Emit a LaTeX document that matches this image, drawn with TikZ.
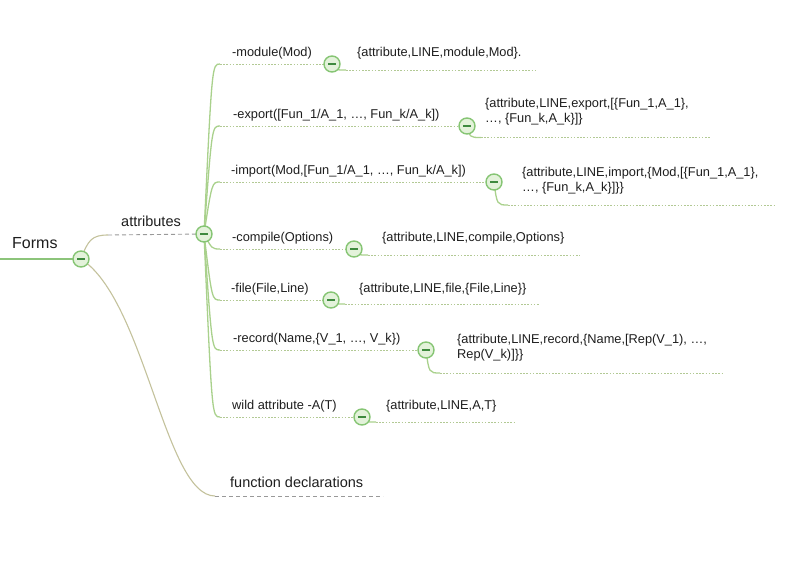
\documentclass[tikz,border=0pt]{standalone}
\usepackage{fontspec}
\setmainfont{Liberation Sans}
\usetikzlibrary{calc}
\pgfdeclarelayer{paper}
\pgfdeclarelayer{bg}
\pgfsetlayers{paper,bg,main}
\definecolor{rootgreen}{HTML}{8CC47A}
\definecolor{olivec}{HTML}{C4C29C}
\definecolor{lgreen}{HTML}{A9D18C}
\definecolor{dotc}{HTML}{B2C994}
\definecolor{dashc}{HTML}{999999}
\definecolor{circd}{HTML}{86C574}
\definecolor{circf}{HTML}{E3F2DA}
\definecolor{bard}{HTML}{3E8A3E}
\definecolor{txt}{HTML}{1E1E1E}
\newcommand\twolines[2]{\begin{tabular}[t]{@{}l@{}}#1\\#2\end{tabular}}
\tikzset{
  circ/.style={circle, draw=circd, line width=1.4pt, fill=circf, minimum size=16pt, inner sep=0pt,
    path picture={\draw[bard, line width=2pt]
      ($(path picture bounding box.center)+(-3.8pt,0pt)$) -- ($(path picture bounding box.center)+(3.8pt,0pt)$);}},
  lbl/.style={anchor=base west, inner sep=0pt, text=txt, font=\fontsize{12.8}{15}\selectfont},
  biglbl/.style={lbl, font=\fontsize{14.5}{17}\selectfont},
  rootlbl/.style={lbl, font=\fontsize{16}{19}\selectfont},
  rootline/.style={draw=rootgreen, line width=1.2pt},
  lvlone/.style={draw=olivec, line width=1.1pt},
  dashul/.style={draw=dashc, line width=0.9pt, dash pattern=on 4pt off 3pt},
  branch/.style={draw=lgreen, line width=1.3pt},
  dotul/.style={draw=dotc, line width=0.9pt, dash pattern=on 1.6pt off 1.6pt},
}
\begin{document}
\begin{tikzpicture}[x=1pt,y=-1pt]
\begin{pgfonlayer}{paper}
\fill[white] (0,0) rectangle (789,576);
\end{pgfonlayer}
\useasboundingbox (0,0) rectangle (789,576);

% ---- circles
\node[circ] (cF) at (81,259) {};
\node[circ] (cA) at (204,234) {};
\node[circ] (cMod) at (332,64) {};
\node[circ] (cExp) at (467,126) {};
\node[circ] (cImp) at (494,182) {};
\node[circ] (cCmp) at (354,249) {};
\node[circ] (cFil) at (331,300) {};
\node[circ] (cRec) at (426,350) {};
\node[circ] (cWld) at (362,417) {};

% ---- texts
\node[rootlbl] (tForms) at (12,248) {Forms};
\node[biglbl] (tAttr) at (121,226) {attributes};
\node[biglbl] (tFun) at (230,487) {function declarations};

\node[lbl] (tMod) at (232,56) {-module(Mod)};
\node[lbl] (tExp) at (233,118) {-export([Fun\_1/A\_1, …, Fun\_k/A\_k])};
\node[lbl] (tImp) at (231,174) {-import(Mod,[Fun\_1/A\_1, …, Fun\_k/A\_k])};
\node[lbl] (tCmp) at (232,241) {-compile(Options)};
\node[lbl] (tFil) at (231,292) {-file(File,Line)};
\node[lbl] (tRec) at (233,342) {-record(Name,\{V\_1, …, V\_k\})};
\node[lbl] (tWld) at (232,409) {wild attribute -A(T)};

\node[lbl] (vMod) at (357,56) {\{attribute,LINE,module,Mod\}.};
\node[lbl] (vExp) at (485,107) {\twolines{\{attribute,LINE,export,[\{Fun\_1,A\_1\},}{…, \{Fun\_k,A\_k\}]\}}};
\node[lbl] (vImp) at (522,176) {\twolines{\{attribute,LINE,import,\{Mod,[\{Fun\_1,A\_1\},}{…, \{Fun\_k,A\_k\}]\}\}}};
\node[lbl] (vCmp) at (382,241) {\{attribute,LINE,compile,Options\}};
\node[lbl] (vFil) at (359,292) {\{attribute,LINE,file,\{File,Line\}\}};
\node[lbl] (vRec) at (457,343) {\twolines{\{attribute,LINE,record,\{Name,[Rep(V\_1), …,}{Rep(V\_k)]\}\}}};
\node[lbl] (vWld) at (386,409) {\{attribute,LINE,A,T\}};

% ---- coordinates for free ends
\coordinate (r0) at (0,259);
\coordinate (uA) at (108,235);
\coordinate (uF0) at (215,496);
\coordinate (uF1) at (383,496);
\foreach \n/\y in {Mod/64,Exp/126,Imp/182,Cmp/249,Fil/300,Rec/350,Wld/417}{
  \coordinate (s\n) at (220,\y);
}
\coordinate (aMod) at (346,70);   \coordinate (eMod) at (536,70);
\coordinate (aExp) at (481,137.5);\coordinate (eExp) at (710,137.5);
\coordinate (aImp) at (508,205);  \coordinate (eImp) at (775,205);
\coordinate (aCmp) at (368,255);  \coordinate (eCmp) at (580,255);
\coordinate (aFil) at (345,304);  \coordinate (eFil) at (540,304);
\coordinate (aRec) at (440,373);  \coordinate (eRec) at (724,373);
\coordinate (aWld) at (376,422);  \coordinate (eWld) at (515,422);

\begin{pgfonlayer}{bg}
  \draw[rootline] (r0) -- (cF.center);
  \draw[lvlone] (cF.center) .. controls (88,240) and (92,235) .. (uA);
  \draw[dashul] (uA) -- (cA.center);
  \draw[lvlone] (cF.center) .. controls (145,300) and (165,496) .. (uF0);
  \draw[dashul] (uF0) -- (uF1);
  \foreach \n in {Mod,Exp,Imp,Cmp,Fil,Rec,Wld}{
    \draw[branch] (cA.center) .. controls ($(s\n)+(-8,0)$) and ($(s\n)+(-8,0)$) .. (s\n);
    \draw[dotul] (s\n) -- (c\n.center);
    \draw[branch] (c\n.center) .. controls ($(a\n)+(-11,0)$) and ($(a\n)+(-11,0)$) .. (a\n);
    \draw[dotul] (a\n) -- (e\n);
  }
\end{pgfonlayer}
\end{tikzpicture}
\end{document}
